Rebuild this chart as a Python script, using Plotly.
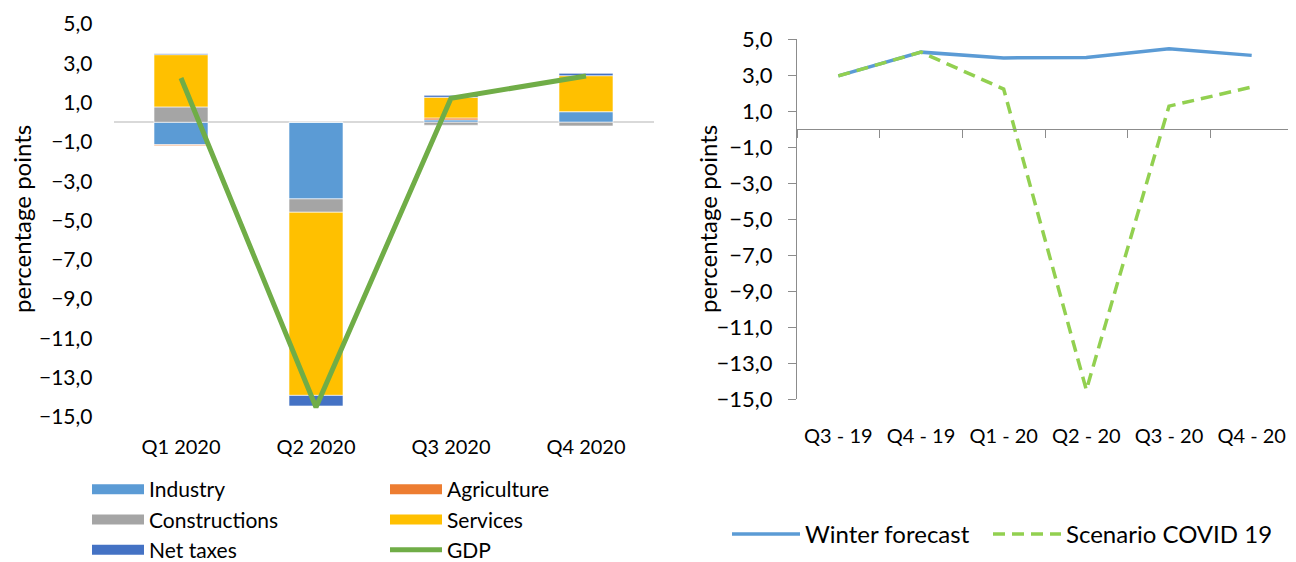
import plotly.graph_objects as go

# left chart: contributions to GDP growth (percentage points)
quarters = ["Q1 2020", "Q2 2020", "Q3 2020", "Q4 2020"]
industry = [-1.14, -3.90, 0.12, 0.54]
agriculture = [-0.05, 0.0, 0.10, 0.0]
constructions = [0.78, -0.68, -0.15, -0.19]
services = [2.66, -9.32, 1.05, 1.83]
net_taxes = [0.05, -0.54, 0.10, 0.12]
gdp = [2.25, -14.5, 1.22, 2.35]

# right chart: GDP path, winter forecast vs covid scenario
periods = ["Q3 - 19", "Q4 - 19", "Q1 - 20", "Q2 - 20", "Q3 - 20", "Q4 - 20"]
winter = [2.95, 4.27, 3.95, 3.97, 4.46, 4.09]
covid = [2.95, 4.27, 2.22, -14.5, 1.27, 2.33]

# page has an 8px body margin, so the figure is a bit smaller than the window
OFF = 8
W, H = 1296 - OFF, 562 - OFF
FONT = "Lato, 'Open Sans', sans-serif"
AX_GREY = "#8c8c8c"

def fx(p):  # page px -> paper fraction
    return (p - OFF) / W

def fy(p):
    return 1 - (p - OFF) / H

fig = go.Figure()

bars = [
    ("Industry", industry, "#5b9bd5", "legend"),
    ("Agriculture", agriculture, "#ed7d31", "legend2"),
    ("Constructions", constructions, "#a5a5a5", "legend"),
    ("Services", services, "#ffc000", "legend2"),
    ("Net taxes", net_taxes, "#4472c4", "legend"),
]
for name, vals, col, _ in bars:
    fig.add_trace(go.Bar(x=quarters, y=vals, name=name, marker=dict(color=col, line=dict(color="white", width=0.6)),
                         width=0.4, showlegend=False, xaxis="x", yaxis="y"))

# legend-only entries so the swatches are wide bars like the original
for name, vals, col, leg in bars:
    fig.add_trace(go.Scatter(x=[None], y=[None], mode="lines", name=name, line=dict(color=col, width=14),
                             legend=leg, xaxis="x", yaxis="y", hoverinfo="skip"))

fig.add_trace(go.Scatter(x=quarters, y=gdp, mode="lines", name="GDP", line=dict(color="#70ad47", width=5),
                         legend="legend2", xaxis="x", yaxis="y"))

fig.add_trace(go.Scatter(x=periods, y=winter, mode="lines", name="Winter forecast",
                         line=dict(color="#5b9bd5", width=3.5), legend="legend3", xaxis="x2", yaxis="y2"))
fig.add_trace(go.Scatter(x=periods, y=covid, mode="lines", name="Scenario COVID 19",
                         line=dict(color="#92d050", width=3.5, dash="12px,7px"), legend="legend4", xaxis="x2", yaxis="y2"))
# helper trace so the zero-line axis gets drawn
fig.add_trace(go.Scatter(x=[None], y=[None], showlegend=False, xaxis="x3", yaxis="y2", hoverinfo="skip"))

leg_font = dict(family=FONT, size=21, color="black")
leg_font_r = dict(family=FONT, size=24, color="black")

fig.update_layout(
    template="none", width=W, height=H, margin=dict(l=0, r=0, t=0, b=0, pad=0, autoexpand=False),
    paper_bgcolor="white", plot_bgcolor="white", font=dict(family=FONT, size=20, color="black"),
    separators=",.", barmode="relative", showlegend=True,
    xaxis=dict(domain=[fx(113.5), fx(653.5)], showgrid=False, showline=False, ticks="", zeroline=False,
               tickfont=dict(size=20), ticklabelstandoff=16, automargin=False),
    yaxis=dict(domain=[fy(417), fy(24)], range=[-15, 5], tick0=1, dtick=2, tickformat=".1f",
               showgrid=False, showline=False, ticks="", zeroline=True, zerolinecolor="#d9d9d9", zerolinewidth=2,
               tickfont=dict(size=21), ticklabelstandoff=20, automargin=False),
    xaxis2=dict(domain=[fx(797), fx(1293)], anchor="y2", range=[-0.5, 5.5], showgrid=False, showline=False,
                ticks="", zeroline=False, tickfont=dict(size=20), ticklabelstandoff=23, automargin=False),
    xaxis3=dict(overlaying="x2", anchor="free", position=fy(129), range=[-0.5, 5.5],
                tickvals=[-0.5, 0.5, 1.5, 2.5, 3.5, 4.5, 5.5], showticklabels=False, showgrid=False,
                showline=True, linecolor=AX_GREY, linewidth=1.3, ticks="outside", ticklen=8,
                tickcolor=AX_GREY, tickwidth=1.3, zeroline=False, automargin=False),
    yaxis2=dict(domain=[fy(399), fy(39)], anchor="x2", range=[-15, 5], tick0=1, dtick=2, tickformat=".1f",
                showgrid=False, showline=True, linecolor=AX_GREY, linewidth=1.3, ticks="outside", ticklen=8,
                tickcolor=AX_GREY, tickwidth=1.3, zeroline=False, tickfont=dict(size=22),
                ticklabelstandoff=11, automargin=False),
    legend=dict(x=fx(87), y=fy(469), xanchor="left", yanchor="top", orientation="v", font=leg_font,
                itemwidth=52, bgcolor="rgba(0,0,0,0)", tracegroupgap=0),
    legend2=dict(x=fx(385), y=fy(469), xanchor="left", yanchor="top", orientation="v", font=leg_font,
                 itemwidth=52, bgcolor="rgba(0,0,0,0)", tracegroupgap=0),
    legend3=dict(x=fx(727), y=fy(512), xanchor="left", yanchor="top", orientation="h", font=leg_font_r,
                 itemwidth=68, bgcolor="rgba(0,0,0,0)"),
    legend4=dict(x=fx(988), y=fy(512), xanchor="left", yanchor="top", orientation="h", font=leg_font_r,
                 itemwidth=68, bgcolor="rgba(0,0,0,0)"),
)

# axis titles
for xc in (22, 708):
    fig.add_annotation(text="percentage points", xref="paper", yref="paper", x=fx(xc), y=fy(219),
                       xanchor="center", yanchor="middle", textangle=-90, showarrow=False,
                       font=dict(family=FONT, size=24, color="black"))

fig.write_html("out.html")
